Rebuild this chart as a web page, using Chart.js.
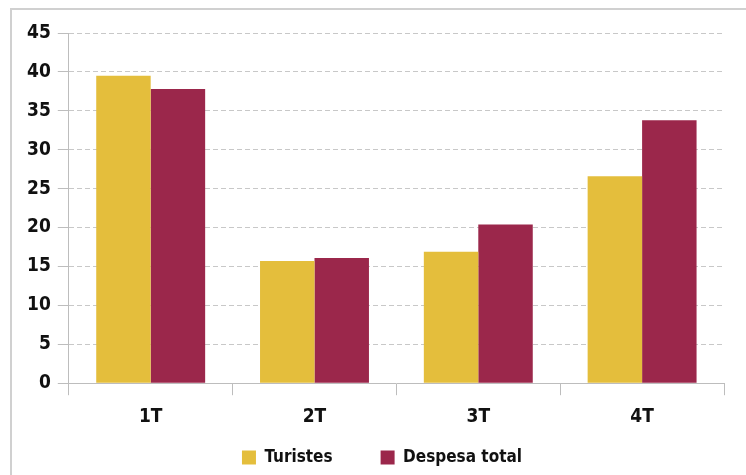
<!DOCTYPE html>
<html>
<head>
<meta charset="utf-8">
<script src="https://cdn.jsdelivr.net/npm/chart.js@4/dist/chart.umd.min.js"></script>
<style>
  html, body { margin: 0; padding: 0; background: #fff; overflow: hidden; }
  #frame {
    position: absolute; left: 10px; top: 8px; width: 740px; height: 470px;
    border-top: 2px solid #d0d0d0; border-left: 2px solid #d0d0d0;
  }
  #wrap { position: absolute; left: 0; top: 0; width: 746px; height: 513px; }
</style>
</head>
<body>
<div id="frame"></div>
<div id="wrap"><canvas id="grafico"></canvas></div>
<script>
// dados do gráfico
const trimestres = ["1T", "2T", "3T", "4T"];
const turistes = [39.5, 15.7, 16.9, 26.6];
const despesaTotal = [37.8, 16.1, 20.4, 33.8];
const escalaY = { min: 0, max: 45, step: 5 };

const fonte = "'DejaVu Sans', 'Liberation Sans', sans-serif";
const peso = "bold condensed";
const espacoLegenda = 48;

// sobe a legenda para junto do eixo (o padding grande só serve para afastar os itens)
const ajusteLegenda = {
  id: "ajusteLegenda",
  afterLayout(chart) {
    const d = espacoLegenda - 11;
    chart.legend.top -= d;
    chart.legend.bottom -= d;
    chart.legend.left += 10;
    chart.legend.right += 10;
  },
};

const ctx = document.getElementById("grafico").getContext("2d");
new Chart(ctx, {
  type: "bar",
  data: {
    labels: trimestres,
    datasets: [
      {
        label: "Turistes",
        data: turistes,
        backgroundColor: "#E4BE3C",
        borderWidth: 0,
      },
      {
        label: "Despesa total",
        data: despesaTotal,
        backgroundColor: "#9B274B",
        borderWidth: 0,
      },
    ],
  },
  options: {
    responsive: true,
    maintainAspectRatio: false,
    animation: false,
    layout: { padding: { left: 20, right: 22, top: 33, bottom: 0 } },
    datasets: {
      bar: { categoryPercentage: 0.665, barPercentage: 1 },
    },
    scales: {
      x: {
        grid: {
          offset: true,
          drawOnChartArea: false,
          drawTicks: true,
          tickLength: 12,
          color: "#bdbdbd",
        },
        border: { display: true, color: "#bdbdbd", width: 1 },
        ticks: {
          color: "#111",
          padding: 10,
          font: { family: fonte, size: 19, weight: peso },
        },
      },
      y: {
        min: escalaY.min,
        max: escalaY.max,
        grid: {
          color: "#c8c8c8",
          tickColor: "#bdbdbd",
          tickLength: 11,
          lineWidth: 1,
        },
        border: { display: true, color: "#bdbdbd", width: 1, dash: [5, 3] },
        ticks: {
          stepSize: escalaY.step,
          color: "#111",
          padding: 7,
          font: { family: fonte, size: 19, weight: peso },
        },
      },
    },
    plugins: {
      legend: {
        position: "bottom",
        labels: {
          boxWidth: 14,
          boxHeight: 14,
          padding: espacoLegenda,
          color: "#111",
          font: { family: fonte, size: 17, weight: peso },
        },
      },
      tooltip: { enabled: false },
    },
  },
  plugins: [ajusteLegenda],
});
</script>
</body>
</html>
